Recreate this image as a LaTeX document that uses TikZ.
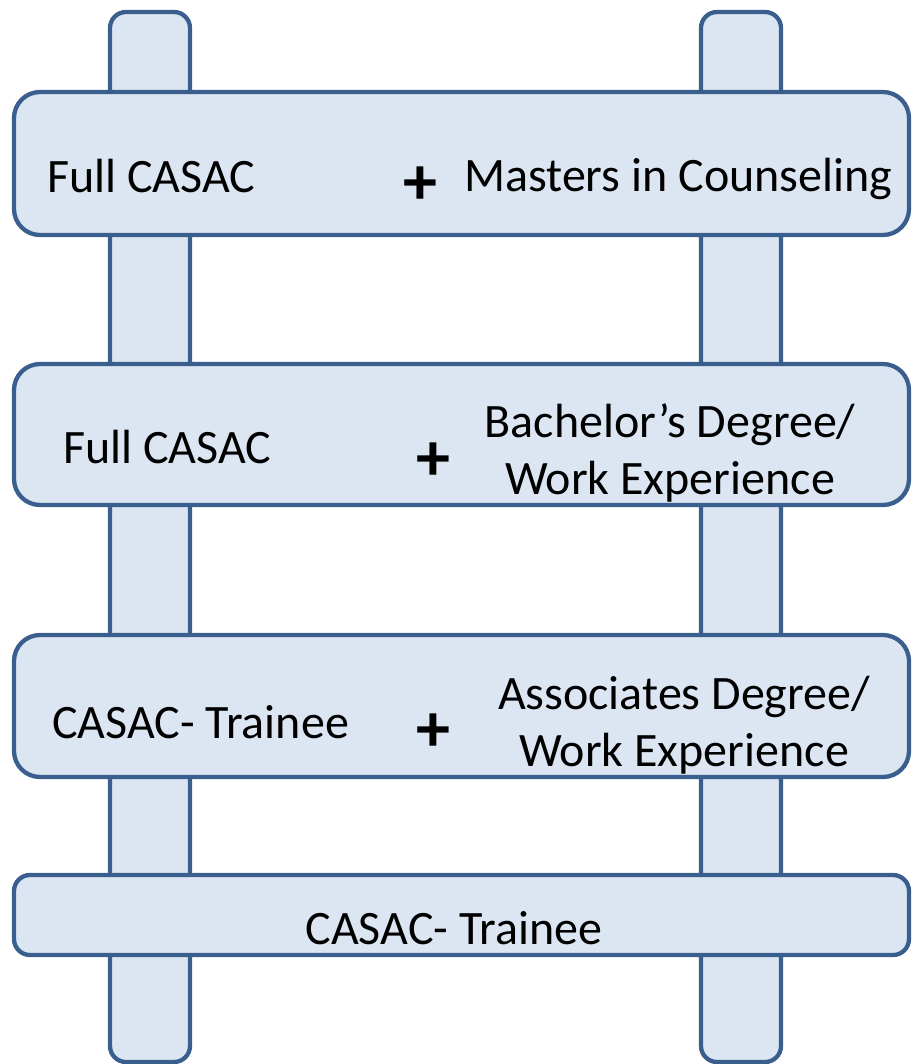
\documentclass[tikz,border=0pt]{standalone}
\usepackage{fontspec}
\setmainfont{Carlito}
\definecolor{edge}{HTML}{3A5F8E}
\definecolor{fillc}{HTML}{DCE6F2}
\begin{document}
\begin{tikzpicture}[x=1pt,y=-1pt,
  part/.style={draw=edge,fill=fillc,line width=4.3pt},
  lbl/.style={font=\fontsize{48}{57}\selectfont,inner sep=0pt,align=center},
  plus/.style={font=\fontsize{68}{68}\selectfont\bfseries,inner sep=0pt}]
\useasboundingbox (0,0) rectangle (918,1064);
% rails
\draw[part,rounded corners=16pt] (110,12) rectangle (190,1062);
\draw[part,rounded corners=16pt] (701,12) rectangle (781,1062);
% rungs
\draw[part,rounded corners=26pt] (14,92) rectangle (909,235);
\draw[part,rounded corners=26pt] (14,364) rectangle (909,505);
\draw[part,rounded corners=26pt] (14,635) rectangle (909,777);
\draw[part,rounded corners=16pt] (14,875) rectangle (909,955);
% texts
\node[lbl,anchor=west] (a1) at (47,176) {Full CASAC};
\node[plus] (p1) at (420,186) {+};
\node[lbl,anchor=west] (b1) at (464,179) {Masters in Counseling};
\node[lbl,anchor=west] (a2) at (63,447) {Full CASAC};
\node[plus] (p2) at (433,462) {+};
\node[lbl] (b2) at (670,453) {Bachelor’s Degree/\\Work Experience};
\node[lbl,anchor=west] (a3) at (52,722) {CASAC- Trainee};
\node[plus] (p3) at (433,733) {+};
\node[lbl] (b3) at (684,725) {Associates Degree/\\Work Experience};
\node[lbl] (a4) at (454,928) {CASAC- Trainee};
\end{tikzpicture}
\end{document}
